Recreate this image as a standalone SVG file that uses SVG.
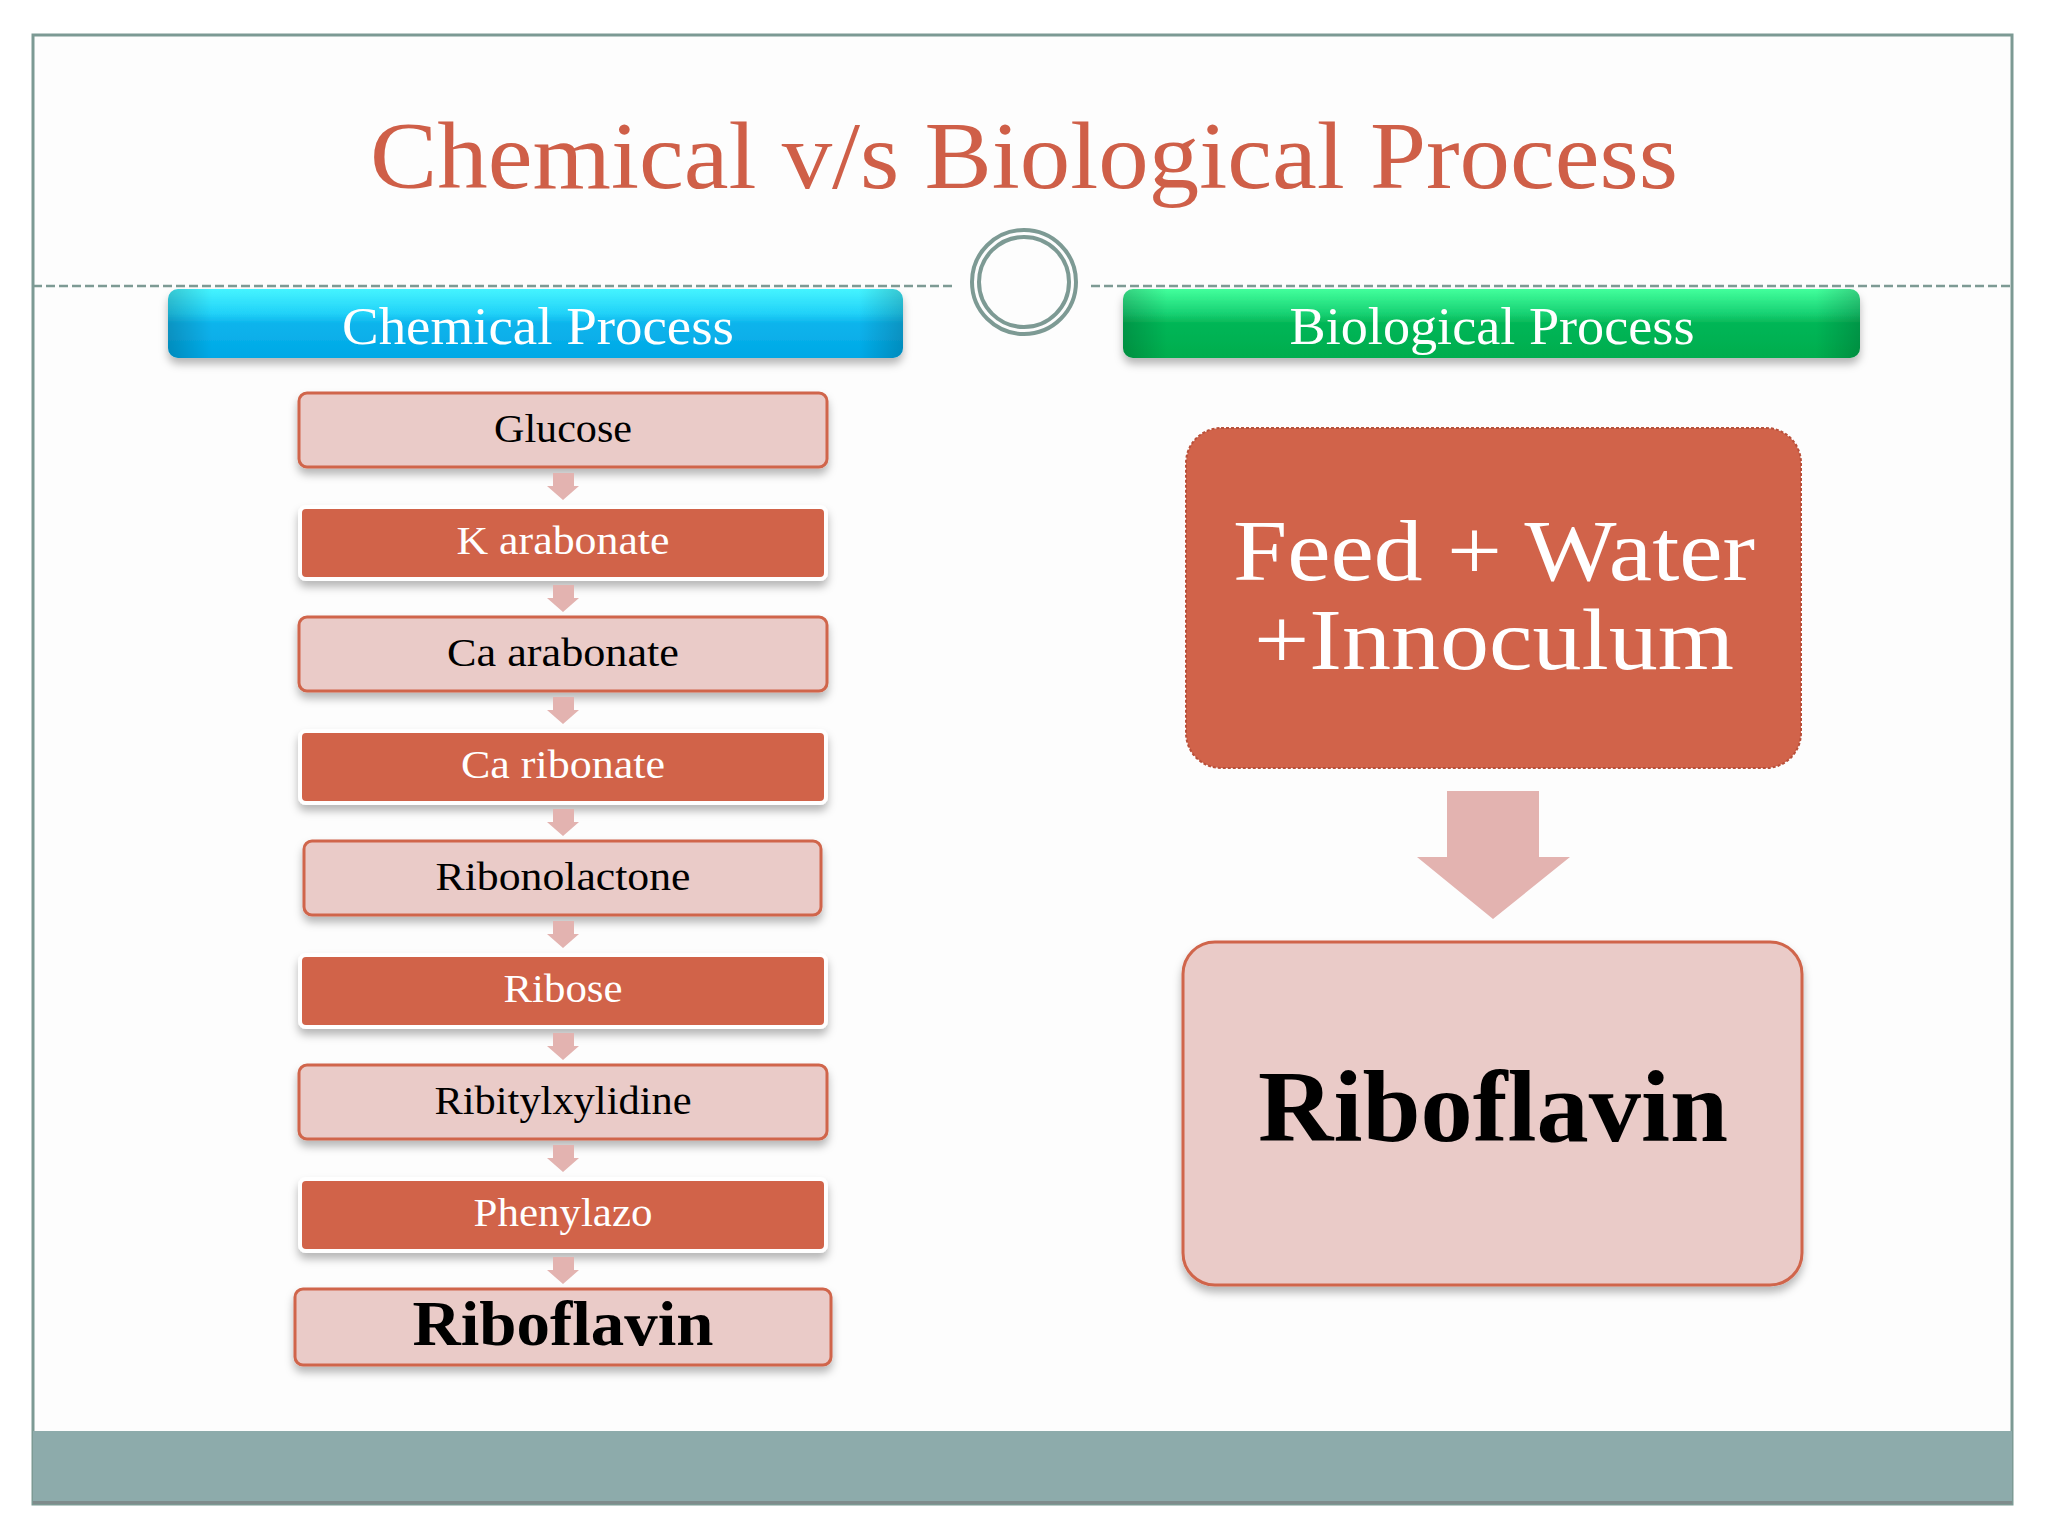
<svg xmlns="http://www.w3.org/2000/svg" width="2048" height="1536" viewBox="0 0 2048 1536">
<defs>
<linearGradient id="gBlue" x1="0" y1="0" x2="0" y2="1">
<stop offset="0" stop-color="#45f4ff"/><stop offset="0.35" stop-color="#22d2f8"/><stop offset="0.5" stop-color="#0db4ec"/><stop offset="1" stop-color="#00a8e6"/>
</linearGradient>
<linearGradient id="gGreen" x1="0" y1="0" x2="0" y2="1">
<stop offset="0" stop-color="#42ff9c"/><stop offset="0.35" stop-color="#18d274"/><stop offset="0.5" stop-color="#04b656"/><stop offset="1" stop-color="#00ad4e"/>
</linearGradient>
<linearGradient id="gEdge" x1="0" y1="0" x2="1" y2="0">
<stop offset="0" stop-color="#000" stop-opacity="0.18"/><stop offset="0.06" stop-color="#000" stop-opacity="0"/><stop offset="0.94" stop-color="#000" stop-opacity="0"/><stop offset="1" stop-color="#000" stop-opacity="0.18"/>
</linearGradient>
<filter id="sh" x="-10%" y="-20%" width="120%" height="150%">
<feDropShadow dx="0" dy="6" stdDeviation="4" flood-color="#000" flood-opacity="0.28"/>
</filter>
<marker id="none" markerWidth="1" markerHeight="1"/>
</defs>
<style>
.light{fill:#eacbc8;stroke:#d0654b;stroke-width:3}
.dark{fill:#d1634a;stroke:#ffffff;stroke-width:4}
.t{font-family:"Liberation Serif","DejaVu Serif",serif;text-anchor:middle}
.bt{font-size:41px;fill:#000}
.wt{font-size:41px;fill:#fff}
.arr{fill:#e3b3b0}
.dash{stroke:#7d9a94;stroke-width:2.5;stroke-dasharray:9 4}
</style>
<rect x="0" y="0" width="2048" height="1536" fill="#ffffff"/>
<g id="frame">
<rect x="33" y="35" width="1979" height="1469" fill="#fdfdfd" stroke="#7c9a94" stroke-width="3"/>
<rect x="33" y="1431" width="1979" height="71" fill="#8dabab"/>
<rect x="33" y="1501" width="1979" height="3" fill="#7f8c8c"/>
<line class="dash" x1="33" y1="286" x2="953" y2="286"/>
<line class="dash" x1="1091" y1="286" x2="2012" y2="286"/>
<circle cx="1024" cy="282" r="52" fill="#fdfdfd" stroke="#7d9a94" stroke-width="4"/>
<circle cx="1024" cy="282" r="45" fill="none" stroke="#7d9a94" stroke-width="4"/>
</g>
<g id="title">
<text class="t" x="1024" y="188" font-size="96" fill="#cf5f48" textLength="1308" lengthAdjust="spacingAndGlyphs">Chemical v/s Biological Process</text>
</g>
<g id="hdr-chem">
<rect x="168" y="289" width="735" height="69" rx="10" fill="url(#gBlue)" filter="url(#sh)"/>
<rect x="168" y="289" width="735" height="69" rx="10" fill="url(#gEdge)"/>
<text class="t" x="538" y="344" font-size="52" fill="#fff" textLength="392" lengthAdjust="spacingAndGlyphs">Chemical Process</text>
</g>
<g id="hdr-bio">
<rect x="1123" y="289" width="737" height="69" rx="10" fill="url(#gGreen)" filter="url(#sh)"/>
<rect x="1123" y="289" width="737" height="69" rx="10" fill="url(#gEdge)"/>
<text class="t" x="1492" y="344" font-size="52" fill="#fff" textLength="405" lengthAdjust="spacingAndGlyphs">Biological Process</text>
</g>
<g id="n-glucose">
<rect class="light" x="299" y="393" width="528" height="74" rx="8" filter="url(#sh)"/>
<text class="t bt" x="563" y="442" textLength="138" lengthAdjust="spacingAndGlyphs">Glucose</text>
</g>
<g id="n-karabonate">
<rect class="dark" x="300" y="507" width="526" height="72" rx="6" filter="url(#sh)"/>
<text class="t wt" x="563" y="554" textLength="213" lengthAdjust="spacingAndGlyphs">K arabonate</text>
</g>
<g id="n-caarabonate">
<rect class="light" x="299" y="617" width="528" height="74" rx="8" filter="url(#sh)"/>
<text class="t bt" x="563" y="666" textLength="232" lengthAdjust="spacingAndGlyphs">Ca arabonate</text>
</g>
<g id="n-caribonate">
<rect class="dark" x="300" y="731" width="526" height="72" rx="6" filter="url(#sh)"/>
<text class="t wt" x="563" y="778" textLength="204" lengthAdjust="spacingAndGlyphs">Ca ribonate</text>
</g>
<g id="n-ribonolactone">
<rect class="light" x="304" y="841" width="517" height="74" rx="8" filter="url(#sh)"/>
<text class="t bt" x="563" y="890" textLength="255" lengthAdjust="spacingAndGlyphs">Ribonolactone</text>
</g>
<g id="n-ribose">
<rect class="dark" x="300" y="955" width="526" height="72" rx="6" filter="url(#sh)"/>
<text class="t wt" x="563" y="1002" textLength="119" lengthAdjust="spacingAndGlyphs">Ribose</text>
</g>
<g id="n-ribitylxylidine">
<rect class="light" x="299" y="1065" width="528" height="74" rx="8" filter="url(#sh)"/>
<text class="t bt" x="563" y="1114" textLength="257" lengthAdjust="spacingAndGlyphs">Ribitylxylidine</text>
</g>
<g id="n-phenylazo">
<rect class="dark" x="300" y="1179" width="526" height="72" rx="6" filter="url(#sh)"/>
<text class="t wt" x="563" y="1226" textLength="179" lengthAdjust="spacingAndGlyphs">Phenylazo</text>
</g>
<g id="n-riboflavin-chem">
<rect class="light" x="295" y="1289" width="536" height="76" rx="8" filter="url(#sh)"/>
<text class="t" x="563" y="1345" font-size="64" font-weight="bold" fill="#000" textLength="301" lengthAdjust="spacingAndGlyphs">Riboflavin</text>
</g>
<g id="n-feed">
<rect x="1186" y="428" width="615" height="340" rx="35" fill="#d1634a" stroke="#b9503a" stroke-width="2" stroke-dasharray="3 2"/>
<text class="t" x="1494" y="580" font-size="86" fill="#fff" textLength="522" lengthAdjust="spacingAndGlyphs">Feed + Water</text>
<text class="t" x="1494" y="669" font-size="86" fill="#fff" textLength="480" lengthAdjust="spacingAndGlyphs">+Innoculum</text>
</g>
<g id="n-riboflavin-bio">
<rect class="light" x="1183" y="942" width="619" height="343" rx="32" filter="url(#sh)"/>
<text class="t" x="1493" y="1141" font-size="102" font-weight="bold" fill="#000" textLength="470" lengthAdjust="spacingAndGlyphs">Riboflavin</text>
</g>
<g id="connectors">
<path class="arr" d="M553 473 h21 v13 h5 l-16 14 l-16 -14 h6 z"/>
<path class="arr" d="M553 585 h21 v13 h5 l-16 14 l-16 -14 h6 z"/>
<path class="arr" d="M553 697 h21 v13 h5 l-16 14 l-16 -14 h6 z"/>
<path class="arr" d="M553 809 h21 v13 h5 l-16 14 l-16 -14 h6 z"/>
<path class="arr" d="M553 921 h21 v13 h5 l-16 14 l-16 -14 h6 z"/>
<path class="arr" d="M553 1033 h21 v13 h5 l-16 14 l-16 -14 h6 z"/>
<path class="arr" d="M553 1145 h21 v13 h5 l-16 14 l-16 -14 h6 z"/>
<path class="arr" d="M553 1257 h21 v13 h5 l-16 14 l-16 -14 h6 z"/>
<path class="arr" d="M1447 791 h92 v66 h31 l-77 62 l-76 -62 h30 z"/>
</g>
</svg>
